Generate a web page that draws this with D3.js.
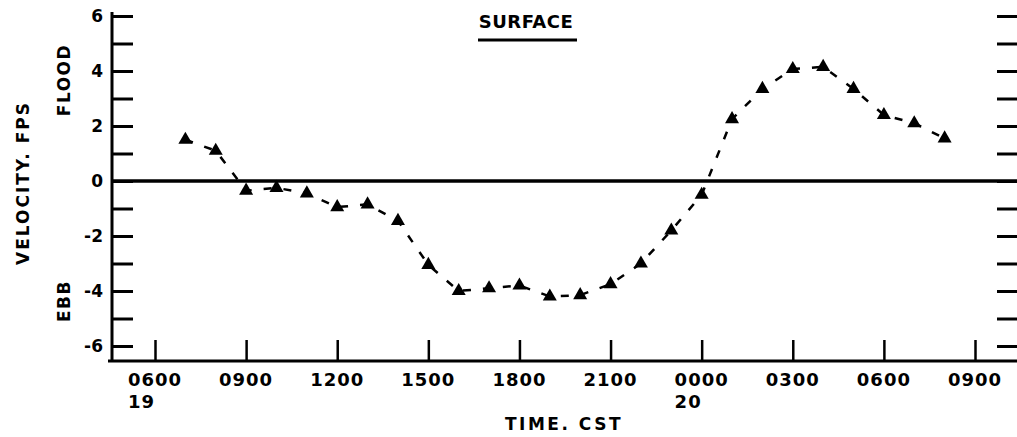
<!DOCTYPE html>
<html><head><meta charset="utf-8">
<script src="https://cdn.jsdelivr.net/npm/d3@7"></script>
<style>
html,body{margin:0;padding:0;background:#fff;}
text{font-family:"DejaVu Sans",sans-serif;font-weight:bold;fill:#000;}
</style></head>
<body>
<svg id="c" width="1017" height="437"></svg>
<script>
// ---- data ----
const hours = [7,8,9,10,11,12,13,14,15,16,17,18,19,20,21,22,23,24,25,26,27,28,29,30,31,32];
const velocity = [1.5,1.1,-0.35,-0.25,-0.45,-0.95,-0.85,-1.45,-3.05,-4.0,-3.9,-3.8,-4.2,-4.15,-3.75,-3.0,-1.8,-0.5,2.25,3.35,4.07,4.15,3.35,2.4,2.1,1.55];
const xTickHours = [6,9,12,15,18,21,24,27,30,33];
const xTickLabels = ["0600","0900","1200","1500","1800","2100","0000","0300","0600","0900"];
const dayLabels = ["19","","","","","","20","","",""];
const yTicks = [-6,-5,-4,-3,-2,-1,0,1,2,3,4,5,6];
const yLabelTicks = [-6,-4,-2,0,2,4,6];
const title = "SURFACE";
const xTitle = "TIME. CST";
const yTitle = "VELOCITY. FPS";

const svg = d3.select("#c");
const W = 1017, H = 437;
const x = d3.scaleLinear().domain([6,33]).range([155,975]);
const y = d3.scaleLinear().domain([-6,6]).range([346,16]);
const axL = 112, axB = 361;

// left axis ticks (inward)
const gL = svg.append("g").attr("transform",`translate(${axL},0)`)
  .call(d3.axisLeft(y).tickValues(yTicks).tickSizeInner(-21).tickSizeOuter(0).tickPadding(9)
    .tickFormat(d => yLabelTicks.includes(d) ? String(d) : ""));
gL.select(".domain").remove();
gL.selectAll(".tick line").attr("stroke","#000").attr("stroke-width",3);
gL.selectAll(".tick text").attr("font-size",17).attr("font-family","DejaVu Sans").attr("font-weight","bold").attr("fill","#000");

// right ticks (inward)
const gR = svg.append("g").attr("transform",`translate(${W},0)`)
  .call(d3.axisRight(y).tickValues(yTicks).tickSizeInner(-20).tickSizeOuter(0).tickFormat(""));
gR.select(".domain").remove();
gR.selectAll(".tick line").attr("stroke","#000").attr("stroke-width",3);

// bottom axis ticks (inward)
const gB = svg.append("g").attr("transform",`translate(0,${axB})`)
  .call(d3.axisBottom(x).tickValues(xTickHours).tickSizeInner(-21).tickSizeOuter(0).tickFormat(""));
gB.select(".domain").remove();
gB.selectAll(".tick line").attr("stroke","#000").attr("stroke-width",2.5);

// axis lines
svg.append("line").attr("x1",axL).attr("x2",axL).attr("y1",12).attr("y2",axB+1)
  .attr("stroke","#000").attr("stroke-width",3);
svg.append("line").attr("x1",axL-4).attr("x2",W).attr("y1",axB).attr("y2",axB)
  .attr("stroke","#000").attr("stroke-width",3);
// zero line
svg.append("line").attr("x1",axL).attr("x2",W).attr("y1",y(0)).attr("y2",y(0))
  .attr("stroke","#000").attr("stroke-width",3.5);

// x tick labels
xTickHours.forEach((h,i) => {
  const t = svg.append("text").attr("x",x(h)).attr("y",386).attr("text-anchor","middle")
    .attr("font-size",18).attr("letter-spacing",1).text(xTickLabels[i]);
  if (dayLabels[i]) {
    const bb = t.node().getBBox();
    svg.append("text").attr("x",bb.x).attr("y",408).attr("font-size",18).attr("letter-spacing",1).text(dayLabels[i]);
  }
});

// titles
svg.append("text").attr("x",564).attr("y",430).attr("text-anchor","middle")
  .attr("font-size",17).attr("letter-spacing",2.5).text(xTitle);
svg.append("text").attr("transform","translate(29,183) rotate(-90)").attr("text-anchor","middle")
  .attr("font-size",17).attr("letter-spacing",2).text(yTitle);
svg.append("text").attr("transform","translate(70,80) rotate(-90)").attr("text-anchor","middle")
  .attr("font-size",17).attr("letter-spacing",1.5).text("FLOOD");
svg.append("text").attr("transform","translate(70,301) rotate(-90)").attr("text-anchor","middle")
  .attr("font-size",17).attr("letter-spacing",1.5).text("EBB");
svg.append("text").attr("x",526).attr("y",28).attr("text-anchor","middle")
  .attr("font-size",18).attr("letter-spacing",0.5).text(title);
svg.append("line").attr("x1",478).attr("x2",577).attr("y1",40).attr("y2",40)
  .attr("stroke","#000").attr("stroke-width",3);

// data
const pts = hours.map((h,i)=>[h,velocity[i]]);
svg.append("path").datum(pts)
  .attr("d", d3.line().x(d=>x(d[0])).y(d=>y(d[1])))
  .attr("fill","none").attr("stroke","#000").attr("stroke-width",2.5)
  .attr("stroke-dasharray","8,12");
svg.selectAll(".m").data(pts).enter().append("path")
  .attr("transform",d=>`translate(${x(d[0])},${y(d[1])})`)
  .attr("d", d3.symbol().type(d3.symbolTriangle).size(85))
  .attr("fill","#000");
</script>
</body></html>
